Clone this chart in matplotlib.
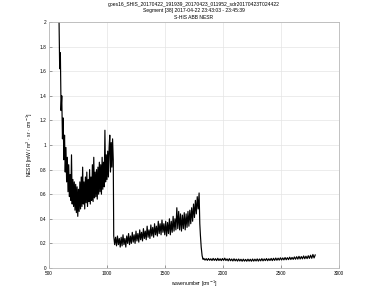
import numpy as np
import matplotlib
matplotlib.use("Agg")
import matplotlib.pyplot as plt

plt.rcParams['font.family'] = ['Liberation Sans', 'DejaVu Sans']

title_lines = [
    "goes16_SHIS_20170422_191939_20170423_011952_sdr20170423T024422",
    "Segment [38] 2017-04-22 23:43:03 - 23:45:39",
    "S-HIS ABB NESR",
]
xlabel = "wavenumber [cm$^{-1}$]"
ylabel = "NESR [mW / m$^2$ · sr · cm$^{-1}$]"

xticks = [500, 1000, 1500, 2000, 2500, 3000]
yticks = [0, 0.2, 0.4, 0.6, 0.8, 1, 1.2, 1.4, 1.6, 1.8, 2]
ytick_labels = ["0", "0.2", "0.4", "0.6", "0.8", "1", "1.2", "1.4", "1.6", "1.8", "2"]

# Band 1 (longwave): wavenumber span and NESR values
band1_range = (586, 1054)
band1_nesr = [
    2.05, 1.62, 1.75, 1.28, 1.40, 1.05, 1.22, 0.88, 1.08, 0.78,
    0.98, 0.70, 0.90, 0.62, 0.84, 0.58, 0.76, 0.55, 0.92, 0.52,
    0.72, 0.50, 0.70, 0.47, 0.68, 0.45, 0.66, 0.42, 0.64, 0.46,
    0.70, 0.48, 0.74, 0.50, 0.82, 0.52, 0.70, 0.48, 0.74, 0.53,
    0.78, 0.50, 0.72, 0.54, 0.80, 0.52, 0.74, 0.55, 0.84, 0.54,
    0.90, 0.57, 0.78, 0.58, 0.80, 0.56, 0.82, 0.60, 0.86, 0.62,
    0.84, 0.60, 0.90, 0.64, 0.86, 0.66, 1.12, 0.70, 0.92, 0.72,
    0.95, 0.74, 0.98, 1.08, 0.78, 1.02, 0.82, 1.05, 0.88,
]

# Band 2 (midwave)
band2_range = (1058, 1794)
band2_nesr = [
    0.26, 0.19, 0.25, 0.18, 0.26, 0.19, 0.24, 0.17, 0.25, 0.18,
    0.27, 0.19, 0.24, 0.17, 0.26, 0.20, 0.28, 0.19, 0.26, 0.20,
    0.29, 0.21, 0.27, 0.20, 0.30, 0.22, 0.28, 0.21, 0.31, 0.23,
    0.29, 0.22, 0.32, 0.24, 0.30, 0.23, 0.34, 0.25, 0.31, 0.24,
    0.35, 0.26, 0.33, 0.25, 0.36, 0.27, 0.34, 0.26, 0.38, 0.28,
    0.36, 0.27, 0.39, 0.29, 0.36, 0.27, 0.38, 0.26, 0.37, 0.28,
    0.40, 0.27, 0.38, 0.29, 0.42, 0.30, 0.40, 0.31, 0.49, 0.32,
    0.46, 0.31, 0.44, 0.30, 0.43, 0.32, 0.45, 0.31, 0.44, 0.33,
    0.46, 0.34, 0.47, 0.36, 0.49, 0.38, 0.52, 0.41, 0.55, 0.44,
    0.58, 0.48, 0.61,
]
edge_wn = [1800, 1805, 1812, 1820, 1828]
edge_nesr = [0.36, 0.27, 0.17, 0.10, 0.07]

# Band 3 (shortwave)
band3_range = (1835, 2795)
band3_nesr = [
    0.078, 0.064, 0.076, 0.062, 0.077, 0.063, 0.075, 0.061, 0.078, 0.062,
    0.076, 0.060, 0.079, 0.061, 0.075, 0.060, 0.077, 0.062, 0.080, 0.061,
    0.074, 0.058, 0.076, 0.059, 0.073, 0.057, 0.075, 0.058, 0.072, 0.056,
    0.073, 0.057, 0.071, 0.055, 0.072, 0.056, 0.070, 0.055, 0.072, 0.056,
    0.071, 0.055, 0.073, 0.056, 0.072, 0.057, 0.074, 0.056, 0.073, 0.058,
    0.076, 0.058, 0.074, 0.060, 0.077, 0.059, 0.075, 0.061, 0.078, 0.060,
    0.079, 0.062, 0.081, 0.063, 0.080, 0.064, 0.083, 0.065, 0.082, 0.066,
    0.085, 0.067, 0.084, 0.068, 0.088, 0.069, 0.086, 0.070, 0.090, 0.071,
    0.092, 0.072, 0.095, 0.073, 0.093, 0.074, 0.098, 0.075, 0.096, 0.076,
    0.100, 0.078, 0.104, 0.079, 0.110, 0.082, 0.106,
]

wn = np.concatenate([
    np.linspace(*band1_range, len(band1_nesr)),
    np.linspace(*band2_range, len(band2_nesr)),
    np.array(edge_wn, dtype=float),
    np.linspace(*band3_range, len(band3_nesr)),
])
nesr = np.concatenate([band1_nesr, band2_nesr, edge_nesr, band3_nesr])

fig = plt.figure(figsize=(3.75, 3.01), dpi=100)
ax = fig.add_axes([49 / 375, 33 / 301, 290 / 375, 246 / 301])

ax.plot(wn, nesr, color="black", linewidth=0.85)

ax.set_xlim(500, 3000)
ax.set_ylim(0, 2)
ax.set_xticks(xticks)
ax.set_xticklabels([str(t) for t in xticks])
ax.set_yticks(yticks)
ax.set_yticklabels(ytick_labels)
ax.tick_params(labelsize=3.4, direction="in", length=2, width=0.4,
               color="#555555", pad=2)
ax.grid(True, color="#e4e4e4", linewidth=0.5)
ax.set_axisbelow(True)
for s in ax.spines.values():
    s.set_color("#b8b8b8")
    s.set_linewidth(0.6)

ax.set_xlabel(xlabel, fontsize=3.6, labelpad=2)
ax.set_ylabel(ylabel, fontsize=3.6, labelpad=3)
ax.set_title("\n".join(title_lines), fontsize=3.6, linespacing=1.35, pad=2.5)

fig.savefig("out.png", dpi=100)
